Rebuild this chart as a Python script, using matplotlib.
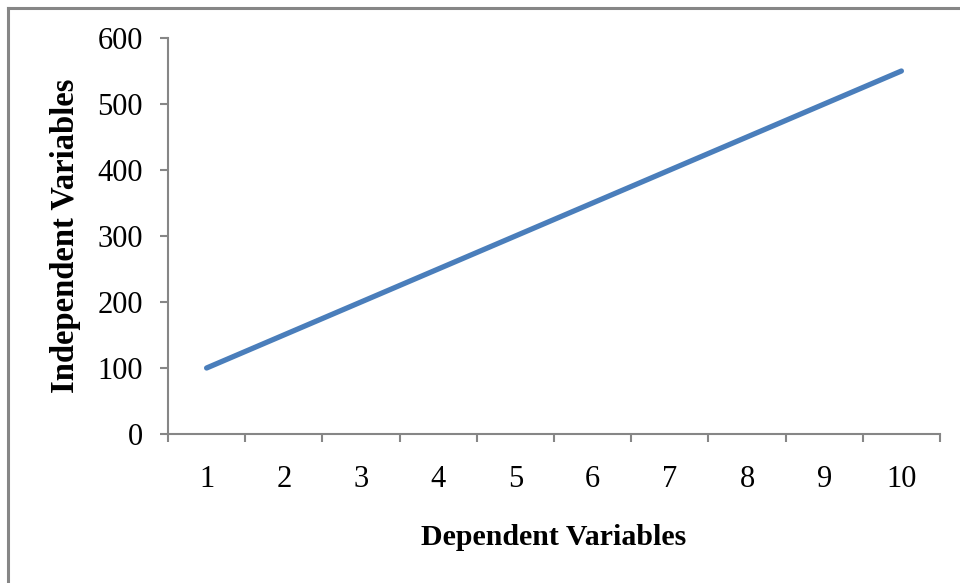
import matplotlib
matplotlib.use("Agg")
import matplotlib.pyplot as plt
from matplotlib.lines import Line2D

categories = [1, 2, 3, 4, 5, 6, 7, 8, 9, 10]
values = [100, 150, 200, 250, 300, 350, 400, 450, 500, 550]
yticks = [0, 100, 200, 300, 400, 500, 600]

plt.rcParams["font.family"] = ["Liberation Serif", "DejaVu Serif"]
grey = "#868686"

fig = plt.figure(figsize=(9.6, 5.83), dpi=100)
ax = fig.add_axes([168 / 960, 1 - 434 / 583, (940 - 168) / 960, (434 - 38) / 583])

ax.plot(categories, values, color="#4a7ebb", lw=3.8, solid_capstyle="round")

ax.set_xlim(0.5, len(categories) + 0.5)
ax.set_ylim(0, 600)
ax.set_yticks(yticks)

# category ticks sit between points, labels under points
ax.set_xticks([c - 0.5 for c in categories] + [categories[-1] + 0.5])
ax.set_xticklabels([])
ax.set_xticks(categories, minor=True)
ax.set_xticklabels([str(c) for c in categories], minor=True)
ax.tick_params(axis="x", which="major", direction="out", length=6, width=1.5,
               color=grey)
ax.tick_params(axis="x", which="minor", length=0, labelsize=22, pad=22)
ax.tick_params(axis="y", direction="out", length=6, width=1.5, color=grey,
               labelsize=22, pad=12)

for s in ["top", "right"]:
    ax.spines[s].set_visible(False)
for s in ["left", "bottom"]:
    ax.spines[s].set_color(grey)
    ax.spines[s].set_linewidth(1.5)

ax.set_xlabel("Dependent Variables", fontsize=21.5, fontweight="bold", labelpad=22)
ax.set_ylabel("Independent Variables", fontsize=23.5, fontweight="bold", labelpad=12)

# chart area border (top and left visible)
fig.add_artist(Line2D([8 / 960, 1], [1 - 8 / 583, 1 - 8 / 583],
                      transform=fig.transFigure, color=grey, lw=2.2))
fig.add_artist(Line2D([8 / 960, 8 / 960], [0, 1 - 8 / 583],
                      transform=fig.transFigure, color=grey, lw=2.2))

fig.savefig("out.png", dpi=100)
